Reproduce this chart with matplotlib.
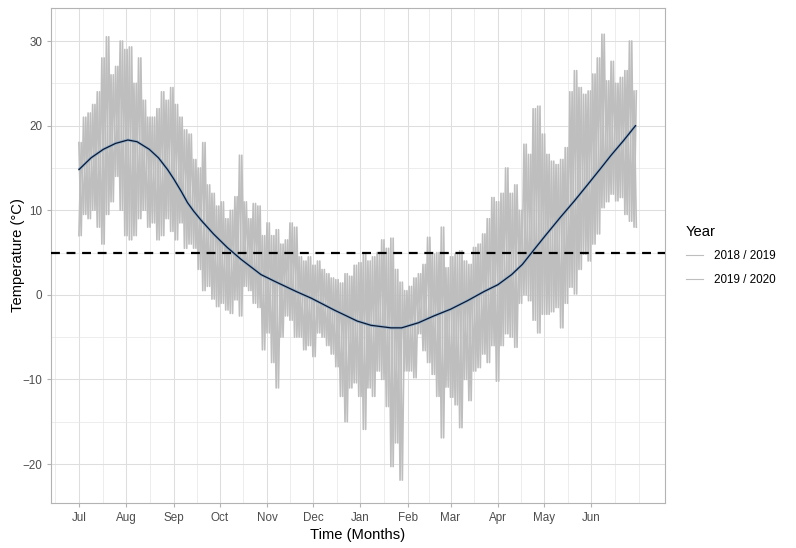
import matplotlib
matplotlib.use("Agg")
import matplotlib.pyplot as plt
from matplotlib.lines import Line2D
import numpy as np

# ---------------- data ----------------
# day offset from 1 July, sampled every 3 days
days = list(range(0, 364, 3))
# upper envelope of hourly temperatures (°C)
temp_high = [18, 21, 21.5, 22.5, 24, 28, 30.5, 26, 27, 30, 29,
             29.3, 25, 28, 23, 21, 21, 22, 24, 23, 24.5, 22.5, 21, 19.5,
             19, 16, 15, 18, 13, 12, 10.5, 11, 9, 10, 11.6, 16.5,
             11, 9, 10.8, 10.5, 7, 8.5, 7, 7.7, 6, 6.5, 8.5, 8,
             4.5, 4, 4.5, 3.5, 4, 3, 2.5, 2, 1.8, 1.4, 2.5, 2.2,
             3.5, 3.8, 4.9, 4, 4.5, 5, 6.5, 5.5, 6.7, 3, 1.5, 0.5,
             1, 2, 2.5, 3.6, 6.8, 4.8, 5, 8, 3.2, 4.5, 4.8, 5.2,
             4, 3.6, 5.6, 6, 7.2, 9, 11.5, 11, 12, 15, 12, 13,
             10, 17.8, 16.6, 22, 22.3, 19, 16.6, 15.8, 15.4, 16, 17.4, 24,
             26.5, 24.5, 23.7, 24.1, 26.1, 28, 30.8, 25.3, 27.6, 25, 25.7, 26.5,
             30, 24.1]
# lower envelope of hourly temperatures (°C)
temp_low = [7, 9.5, 9, 10, 8, 6, 9.5, 11, 14, 10, 7,
            6.5, 7, 9, 10, 8, 8.5, 6.5, 7, 9, 7.5, 6.5, 8.5, 5.5,
            6, 5.5, 3, 0.5, 1, -0.5, -1.4, -1, -1.8, -2.2, -0.6, -2.5,
            1, 0.5, -1, -1.5, -6.5, -4.5, -8, -11, -5, -2.5, -3, -5,
            -5, -6.5, -6, -7.3, -4.5, -5, -6, -7, -8.5, -12, -15, -11,
            -10.4, -12, -15.9, -11, -12, -9, -10, -13.2, -20.3, -17.5, -21.9, -9,
            -9, -9.8, -4.6, -6.6, -8, -9.4, -12, -16.9, -10.9, -12.1, -13, -15.7,
            -10, -12.5, -9, -8.6, -7, -8, -6, -10.2, -6, -4.6, -5, -6.2,
            -1, 0, -0.7, -3, -4.5, -2.3, -2.3, -2, -1.5, -3.9, -1, 0.9,
            0.1, 3, 4.8, 4, 6, 7.2, 10.3, 11, 11.9, 11.1, 11.5, 9.5,
            8.7, 8]

# smoothed trend
smooth_days = [0, 8, 16, 24, 32, 38, 46, 52, 58, 62, 67, 71, 75, 80, 88, 97,
               106, 119, 128, 142, 152, 167, 182, 191, 204, 211, 222, 232,
               243, 254, 265, 274, 283, 290, 297, 305, 315, 324, 333, 341,
               348, 356, 364]
smooth_vals = [14.8, 16.2, 17.2, 17.9, 18.3, 18.1, 17.2, 16.2, 14.8, 13.7,
               12.2, 10.9, 9.9, 8.8, 7.2, 5.6, 4.2, 2.4, 1.6, 0.4, -0.4,
               -1.8, -3.1, -3.6, -3.9, -3.9, -3.3, -2.5, -1.7, -0.7, 0.4,
               1.2, 2.4, 3.6, 5.2, 7.0, 9.2, 11.1, 13.1, 14.9, 16.5, 18.2, 20.0]

threshold = 5
month_days = [0, 31, 62, 92, 123, 153, 184, 215, 243, 274, 304, 335]
month_labels = ["Jul", "Aug", "Sep", "Oct", "Nov", "Dec", "Jan", "Feb",
                "Mar", "Apr", "May", "Jun"]
years = ["2018 / 2019", "2019 / 2020"]

# ---------------- figure ----------------
plt.rcParams['font.family'] = ['Liberation Sans', 'DejaVu Sans']
W, H = 796, 548
fig = plt.figure(figsize=(W / 100, H / 100), dpi=100)
ax = fig.add_axes([51 / W, (H - 503) / H, (665 - 51) / W, (503 - 8) / H])

gray = "#BEBEBE"
d = np.array(days, dtype=float)
hi = np.array(temp_high)
lo = np.array(temp_low)
xz = np.column_stack([d, d + 1.5]).ravel()
ya = np.column_stack([hi, lo]).ravel()
yb = np.column_stack([lo, hi]).ravel()
ax.plot(xz, ya, color=gray, lw=1.2, zorder=2)
ax.plot(xz, yb, color=gray, lw=1.2, zorder=2)

ax.plot(smooth_days, smooth_vals, color="#98B0C8", lw=2.2, zorder=3,
        solid_capstyle="butt", solid_joinstyle="round")
ax.plot(smooth_days, smooth_vals, color="#0A1730", lw=0.9, zorder=4,
        solid_joinstyle="round")

ax.axhline(threshold, color="black", lw=1.6, dashes=(4, 3), zorder=5)

ax.set_xlim(-18.25, 383.25)
ax.set_ylim(-24.6, 33.9)
ax.set_xticks(month_days)
ax.set_xticklabels(month_labels)
minor_x = [(a + b) / 2 for a, b in zip(month_days[:-1], month_days[1:])]
minor_x = [-15.5] + minor_x + [350.5, 366]
ax.set_xticks(minor_x, minor=True)
ax.set_yticks([-20, -10, 0, 10, 20, 30])
ax.set_yticks([-15, -5, 5, 15, 25], minor=True)

ax.grid(which="major", color="#DEDEDE", lw=0.75, zorder=0)
ax.grid(which="minor", color="#E6E6E6", lw=0.5, zorder=0)
ax.set_axisbelow(True)

ax.tick_params(which="major", length=2.7, width=0.8, color="#B3B3B3",
               labelcolor="#4D4D4D", labelsize=8.4, pad=3.5)
ax.tick_params(which="minor", length=0)
for s in ax.spines.values():
    s.set_color("#B3B3B3")
    s.set_linewidth(0.8)

ax.set_xlabel("Time (Months)", fontsize=10.6, color="black", labelpad=3.5)
ax.set_ylabel("Temperature (°C)", fontsize=10.6, color="black", labelpad=-2)

handles = [Line2D([], [], color=gray, lw=0.8) for _ in years]
leg = fig.legend(handles, years, loc="upper left",
                 bbox_to_anchor=(675 / W, 1 - 214 / H),
                 frameon=False, fontsize=8.4, title="Year",
                 title_fontsize=10.6, handlelength=1.5, handletextpad=0.9,
                 labelspacing=1.0, alignment="left")

fig.savefig("out.png", dpi=100)
